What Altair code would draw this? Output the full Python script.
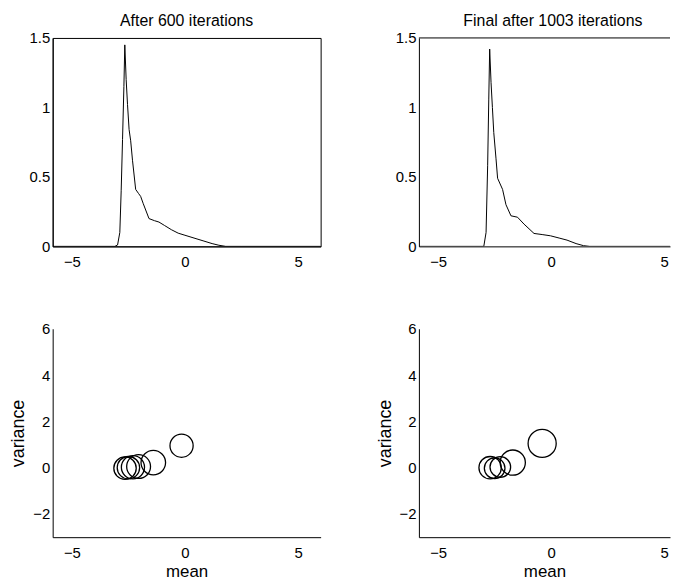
import altair as alt
import pandas as pd

# ---- density curves (top row) ----
x_600 = [-5.85, -3.1, -2.98, -2.88, -2.82, -2.76, -2.7, -2.66, -2.6, -2.54, -2.47, -2.4,
         -2.32, -2.18, -2.05, -1.96, -1.85, -1.59, -1.35, -1.15, -0.9, -0.6, -0.3, 0.0,
         0.4, 0.8, 1.2, 1.5, 1.8, 2.5, 6.0]
y_600 = [0, 0, 0.01, 0.1, 0.4, 0.77, 1.15, 1.45, 1.2, 1.02, 0.84, 0.76,
         0.62, 0.41, 0.38, 0.36, 0.31, 0.2, 0.185, 0.175, 0.15, 0.12, 0.095, 0.08,
         0.06, 0.04, 0.02, 0.008, 0.0, 0.0, 0.0]

x_1003 = [-5.85, -3.1, -2.98, -2.88, -2.81, -2.76, -2.72, -2.66, -2.6, -2.54, -2.44, -2.37,
          -2.15, -2.0, -1.78, -1.49, -1.2, -0.76, -0.4, -0.03, 0.35, 0.7, 1.1, 1.43,
          1.7, 2.5, 6.0]
y_1003 = [0, 0, 0.0, 0.1, 0.58, 1.06, 1.42, 1.18, 1.0, 0.82, 0.63, 0.49,
          0.41, 0.30, 0.22, 0.21, 0.16, 0.093, 0.085, 0.076, 0.06, 0.045, 0.02, 0.005,
          0.0, 0.0, 0.0]

# ---- mixture components (bottom row) ----
mean_600 = [-2.65, -2.5, -2.3, -2.05, -1.4, -0.15]
var_600 = [-0.02, 0.0, 0.02, 0.05, 0.22, 0.95]
weight_600 = [0.15, 0.15, 0.16, 0.17, 0.18, 0.16]

mean_1003 = [-2.7, -2.5, -2.25, -1.7, -0.4]
var_1003 = [0.0, -0.02, 0.03, 0.22, 1.05]
weight_1003 = [0.15, 0.127, 0.127, 0.19, 0.236]

titles = ["After 600 iterations", "Final after 1003 iterations"]
top_limit = [1.5]

FONT = "Liberation Sans"
H = 210
W_LEFT, W_RIGHT = 270, 253
XDOM_LEFT = [-5.85, 6.0]
XDOM_RIGHT = [-5.85, -5.85 + 11.85 * W_RIGHT / W_LEFT]


def x_axis(title=None):
    kw = dict(values=[-5, 0, 5], format="~g", grid=False, ticks=False,
              labelPadding=8, labelFontSize=15, labelFont=FONT, labelColor="black",
              domainColor="black", labelFlush=False, minExtent=23, maxExtent=23)
    if title:
        kw.update(title=title, titleFont=FONT, titleFontSize=17, titleFontWeight="normal",
                  titleColor="black", titlePadding=4)
    else:
        kw.update(title=None)
    return alt.Axis(**kw)


def y_axis(values, title=None):
    kw = dict(values=values, format="~g", grid=False, ticks=False,
              labelPadding=3, labelFontSize=15, labelFont=FONT, labelColor="black",
              domainColor="black", labelFlush=False, minExtent=24, maxExtent=24)
    if title:
        kw.update(title=title, titleFont=FONT, titleFontSize=18, titleFontWeight="normal",
                  titleColor="black", titlePadding=1)
    else:
        kw.update(title=None)
    return alt.Axis(**kw)


def top_panel(xs, ys, title, xdom, width, boxed, dx):
    df = pd.DataFrame({"x": xs, "y": ys})
    xenc = alt.X("x:Q", scale=alt.Scale(domain=xdom, nice=False, zero=False), axis=x_axis())
    yenc = alt.Y("y:Q", scale=alt.Scale(domain=[0, 1.5], nice=False),
                 axis=y_axis([0, 0.5, 1, 1.5]))
    line = alt.Chart(df).mark_line(color="black", strokeWidth=1, clip=True).encode(x=xenc, y=yenc)
    top_rule = alt.Chart(pd.DataFrame({"y": top_limit})).mark_rule(
        color="black", strokeWidth=1).encode(y=alt.Y("y:Q"))
    tp = alt.TitleParams(title, font=FONT, fontSize=16, fontWeight="normal",
                         color="black", offset=2, frame="group", dx=dx)
    if boxed:
        return line.properties(width=width, height=H, title=tp,
                               view=alt.ViewBackground(stroke="black", strokeWidth=1))
    return alt.layer(line, top_rule).properties(
        width=width, height=H, title=tp,
        view=alt.ViewBackground(stroke="transparent"))


def bottom_panel(ms, vs, ws, xdom, width):
    df = pd.DataFrame({"mean": ms, "variance": vs, "weight": ws})
    return alt.Chart(df).mark_point(shape="circle", filled=False, color="black",
                                    strokeWidth=1.3, opacity=1, clip=True).encode(
        x=alt.X("mean:Q", scale=alt.Scale(domain=xdom, nice=False, zero=False), axis=x_axis("mean")),
        y=alt.Y("variance:Q", scale=alt.Scale(domain=[-3, 6], nice=False),
                axis=y_axis([-2, 0, 2, 4, 6], "variance")),
        size=alt.Size("weight:Q", scale=alt.Scale(domain=[0, 1], range=[0, 3400]), legend=None),
    ).properties(
        width=width, height=H,
        view=alt.ViewBackground(stroke="transparent"),
    )


chart = alt.concat(
    top_panel(x_600, y_600, titles[0], XDOM_LEFT, W_LEFT, True, 0),
    top_panel(x_1003, y_1003, titles[1], XDOM_RIGHT, W_RIGHT, False, (W_LEFT - W_RIGHT) / 2),
    bottom_panel(mean_600, var_600, weight_600, XDOM_LEFT, W_LEFT),
    bottom_panel(mean_1003, var_1003, weight_1003, XDOM_RIGHT, W_RIGHT),
    columns=2,
    spacing={"row": 51, "column": 54},
).properties(
    padding={"left": 1, "top": 2, "right": 0, "bottom": 0}
).configure(background="white")

chart.save("out.html", embed_options={"renderer": "svg", "actions": False})
